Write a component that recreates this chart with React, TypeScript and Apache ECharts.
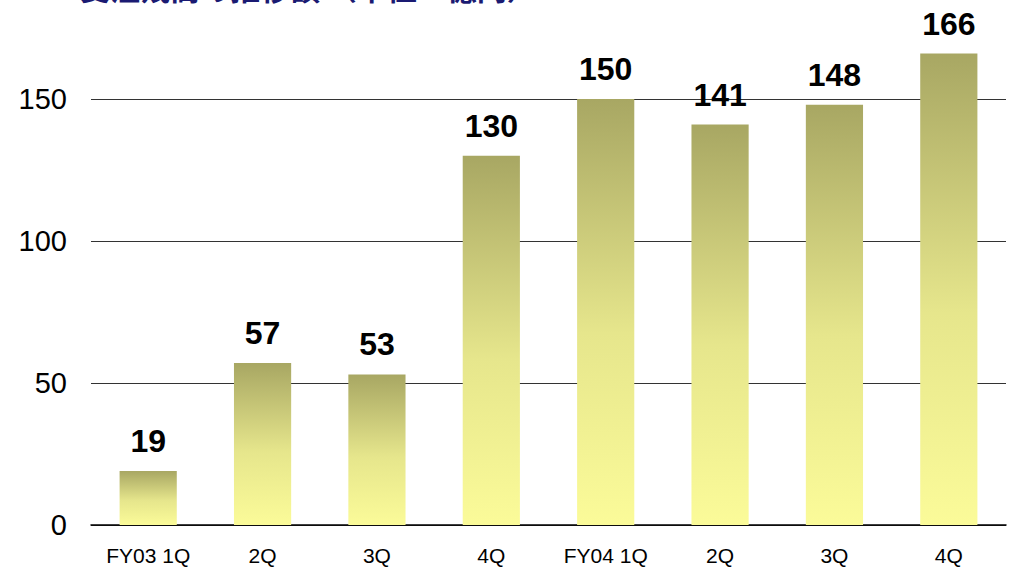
import React, { useEffect, useRef } from "react";
import * as echarts from "echarts";

const categories = ["FY03 1Q", "2Q", "3Q", "4Q", "FY04 1Q", "2Q", "3Q", "4Q"];
const values = [19, 57, 53, 130, 150, 141, 148, 166];
const yTicks = [0, 50, 100, 150, 200];
const titleText = "受注残高の推移額 （単位：億円）";

export default function App() {
  const ref = useRef<HTMLDivElement>(null);
  useEffect(() => {
    if (!ref.current) return;
    const chart = echarts.init(ref.current, undefined, { renderer: "svg" });
    chart.setOption({
      animation: false,
      backgroundColor: "#ffffff",
      graphic: [
        {
          type: "text",
          left: 80,
          top: 43 - 28,
          style: {
            text: titleText,
            font: 'bold 30px "Noto Sans CJK JP"',
            fill: "#1a1a72",
          },
        },
      ],
      grid: { left: 91, right: 8, top: 0, bottom: 45, containLabel: false },
      xAxis: {
        type: "category",
        data: categories,
        axisLine: { lineStyle: { color: "#000000", width: 1.5 } },
        axisTick: { show: false },
        axisLabel: {
          color: "#000000",
          fontSize: 21,
          fontFamily: "Liberation Sans, Arial",
          margin: 20,
        },
      },
      yAxis: {
        type: "value",
        min: yTicks[0],
        max: yTicks[yTicks.length - 1],
        interval: 50,
        axisLine: { show: false },
        axisTick: { show: false },
        splitLine: { lineStyle: { color: "#333333", width: 1 } },
        axisLabel: {
          color: "#000000",
          fontSize: 29,
          fontFamily: "Liberation Sans, Arial",
          margin: 24,
          formatter: (v: number) => (v > 150 ? "" : String(v)),
        },
      },
      series: [
        {
          type: "bar",
          data: values,
          barWidth: "50%",
          itemStyle: {
            color: new echarts.graphic.LinearGradient(0, 0, 0, 1, [
              { offset: 0, color: "#a8a763" },
              { offset: 0.55, color: "#e6e68c" },
              { offset: 1, color: "#fbfb99" },
            ]),
          },
          label: {
            show: true,
            position: "top",
            distance: 14,
            color: "#000000",
            fontSize: 32,
            fontWeight: "bold",
            fontFamily: "Liberation Sans, Arial",
          },
        },
      ],
    });
    return () => chart.dispose();
  }, []);
  return (
    <div
      ref={ref}
      style={{ position: "fixed", left: 0, top: -43, width: 1014, height: 613 }}
    />
  );
}
